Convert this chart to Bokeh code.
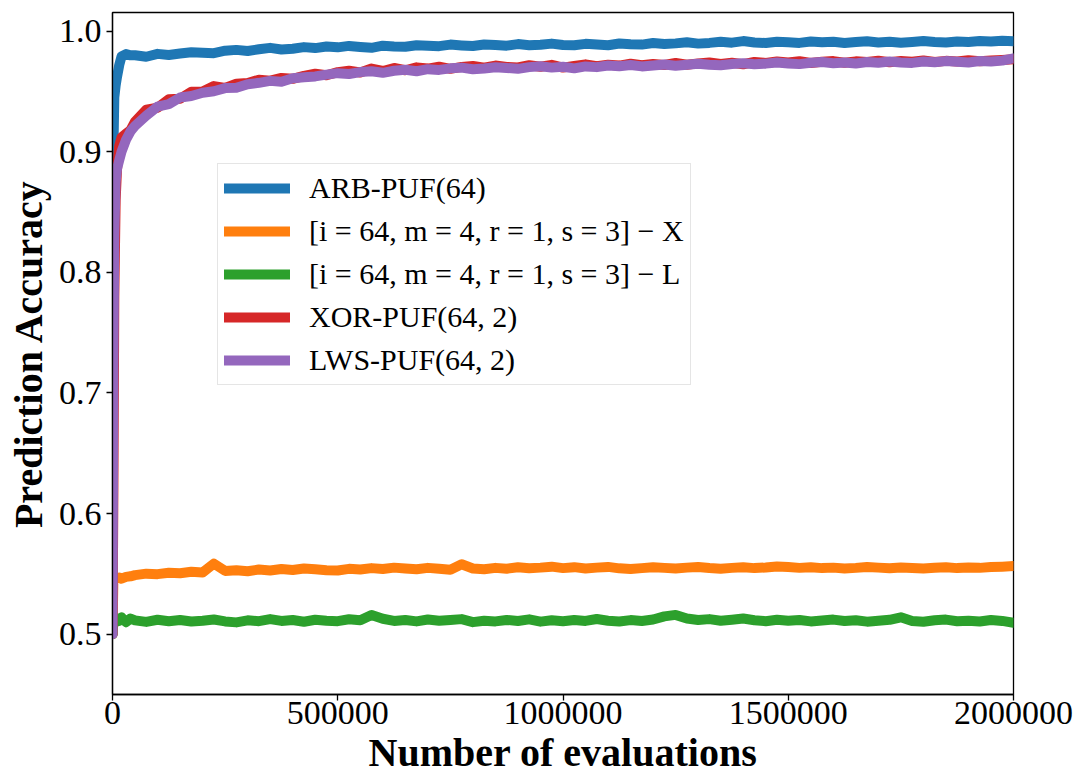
from bokeh.plotting import figure
from bokeh.models import Range1d, FixedTicker, PrintfTickFormatter, BasicTickFormatter, Legend, LegendItem
from bokeh.embed import file_html
from bokeh.resources import INLINE

# ---------------- data ----------------
early_x = [0, 2000, 4000, 7000, 10000, 15000, 20000, 30000, 40000]
evaluations = early_x + list(range(50000, 2000001, 25000))

arb_puf = [0.5, 0.900, 0.945, 0.955, 0.962, 0.972, 0.979, 0.981, 0.980,
    0.9800, 0.9788, 0.9812, 0.9803, 0.9815, 0.9825, 0.9822, 0.9818, 0.9838, 0.9845,
    0.9836, 0.9850, 0.9862, 0.9848, 0.9855, 0.9868, 0.9860, 0.9873, 0.9866, 0.9878,
    0.9869, 0.9862, 0.9880, 0.9874, 0.9871, 0.9884, 0.9879, 0.9876, 0.9889, 0.9882,
    0.9877, 0.9890, 0.9885, 0.9880, 0.9893, 0.9884, 0.9888, 0.9897, 0.9886, 0.9883,
    0.9895, 0.9890, 0.9884, 0.9898, 0.9892, 0.9889, 0.9902, 0.9894, 0.9899, 0.9908,
    0.9897, 0.9903, 0.9912, 0.9905, 0.9918, 0.9906, 0.9902, 0.9913, 0.9909, 0.9903,
    0.9914, 0.9908, 0.9912, 0.9902, 0.9910, 0.9916, 0.9907, 0.9913, 0.9905, 0.9911,
    0.9918, 0.9910, 0.9906, 0.9915, 0.9911, 0.9918, 0.9914, 0.9920, 0.9917]

imrs_x = [0.5, 0.546, 0.547, 0.546, 0.5465, 0.547, 0.546, 0.5475, 0.548,
    0.5490, 0.5502, 0.5498, 0.5510, 0.5505, 0.5518, 0.5512, 0.5585, 0.5525, 0.5530,
    0.5522, 0.5536, 0.5528, 0.5540, 0.5532, 0.5545, 0.5538, 0.5530, 0.5528, 0.5542,
    0.5536, 0.5548, 0.5540, 0.5552, 0.5544, 0.5538, 0.5550, 0.5542, 0.5535, 0.5580,
    0.5545, 0.5538, 0.5550, 0.5543, 0.5555, 0.5547, 0.5552, 0.5560, 0.5548, 0.5556,
    0.5545, 0.5552, 0.5558, 0.5546, 0.5540, 0.5548, 0.5556, 0.5550, 0.5545, 0.5552,
    0.5558, 0.5549, 0.5543, 0.5550, 0.5556, 0.5548, 0.5553, 0.5562, 0.5557, 0.5550,
    0.5556, 0.5548, 0.5552, 0.5545, 0.5550, 0.5558, 0.5552, 0.5546, 0.5553, 0.5549,
    0.5544, 0.5551, 0.5556, 0.5548, 0.5553, 0.5550, 0.5557, 0.5560, 0.5565]

imrs_l = [0.5, 0.512, 0.514, 0.510, 0.513, 0.511, 0.514, 0.510, 0.513,
    0.5115, 0.5102, 0.5120, 0.5108, 0.5118, 0.5105, 0.5112, 0.5122, 0.5106, 0.5098,
    0.5115, 0.5108, 0.5125, 0.5110, 0.5118, 0.5103, 0.5120, 0.5112, 0.5108, 0.5124,
    0.5115, 0.5160, 0.5128, 0.5110, 0.5118, 0.5106, 0.5122, 0.5112, 0.5118, 0.5125,
    0.5100, 0.5112, 0.5106, 0.5118, 0.5110, 0.5123, 0.5104, 0.5115, 0.5108, 0.5118,
    0.5110, 0.5126, 0.5112, 0.5105, 0.5117, 0.5110, 0.5122, 0.5148, 0.5160, 0.5130,
    0.5118, 0.5125, 0.5112, 0.5120, 0.5130, 0.5116, 0.5108, 0.5120, 0.5112, 0.5118,
    0.5106, 0.5113, 0.5121, 0.5109, 0.5116, 0.5104, 0.5112, 0.5119, 0.5140, 0.5110,
    0.5103, 0.5115, 0.5121, 0.5108, 0.5112, 0.5105, 0.5118, 0.5110, 0.5095]

xor_puf = [0.5, 0.620, 0.780, 0.860, 0.885, 0.905, 0.912, 0.915, 0.918,
    0.9250, 0.9350, 0.9365, 0.9435, 0.9440, 0.9498, 0.9500, 0.9545, 0.9530, 0.9565,
    0.9570, 0.9598, 0.9590, 0.9612, 0.9605, 0.9630, 0.9648, 0.9635, 0.9660, 0.9672,
    0.9658, 0.9690, 0.9670, 0.9695, 0.9676, 0.9700, 0.9690, 0.9705, 0.9688, 0.9704,
    0.9711, 0.9697, 0.9715, 0.9704, 0.9700, 0.9718, 0.9705, 0.9721, 0.9698, 0.9712,
    0.9725, 0.9710, 0.9722, 0.9715, 0.9731, 0.9718, 0.9728, 0.9720, 0.9736, 0.9722,
    0.9733, 0.9741, 0.9729, 0.9738, 0.9726, 0.9745, 0.9737, 0.9748, 0.9740, 0.9751,
    0.9736, 0.9747, 0.9752, 0.9738, 0.9750, 0.9744, 0.9755, 0.9742, 0.9753, 0.9747,
    0.9758, 0.9745, 0.9754, 0.9749, 0.9760, 0.9750, 0.9757, 0.9762, 0.9768]

lws_puf = [0.5, 0.720, 0.830, 0.875, 0.886, 0.893, 0.900, 0.910, 0.917,
    0.9215, 0.9300, 0.9375, 0.9395, 0.9450, 0.9462, 0.9490, 0.9502, 0.9528, 0.9531,
    0.9560, 0.9572, 0.9588, 0.9581, 0.9610, 0.9618, 0.9625, 0.9640, 0.9652, 0.9645,
    0.9661, 0.9668, 0.9655, 0.9672, 0.9680, 0.9668, 0.9685, 0.9679, 0.9692, 0.9698,
    0.9684, 0.9690, 0.9701, 0.9695, 0.9688, 0.9702, 0.9710, 0.9698, 0.9705, 0.9692,
    0.9708, 0.9702, 0.9715, 0.9710, 0.9719, 0.9708, 0.9716, 0.9724, 0.9713, 0.9721,
    0.9730, 0.9722, 0.9717, 0.9728, 0.9735, 0.9726, 0.9731, 0.9740, 0.9733, 0.9727,
    0.9738, 0.9744, 0.9735, 0.9741, 0.9732, 0.9745, 0.9739, 0.9748, 0.9741, 0.9737,
    0.9749, 0.9743, 0.9752, 0.9746, 0.9741, 0.9753, 0.9748, 0.9756, 0.9775]

series_labels = [
    "ARB-PUF(64)",
    "[i = 64, m = 4, r = 1, s = 3] \u2212 X",
    "[i = 64, m = 4, r = 1, s = 3] \u2212 L",
    "XOR-PUF(64, 2)",
    "LWS-PUF(64, 2)",
]
series_colors = ["#1f77b4", "#ff7f0e", "#2ca02c", "#d62728", "#9467bd"]
x_ticks = [0, 500000, 1000000, 1500000, 2000000]
y_ticks = [0.5, 0.6, 0.7, 0.8, 0.9, 1.0]

# ---------------- figure ----------------
FONT = "Liberation Serif"

p = figure(width=1079, height=781, output_backend="svg", toolbar_location=None,
           x_range=Range1d(0, 2000000), y_range=Range1d(0.45, 1.0155),
           min_border_left=112, min_border_right=66, min_border_top=12,
           min_border_bottom=87)
p.background_fill_color = "white"
p.border_fill_color = "white"
p.grid.visible = False
p.outline_line_color = "black"
p.outline_line_width = 1.3
p.outline_line_alpha = 1.0

all_series = [arb_puf, imrs_x, imrs_l, xor_puf, lws_puf]
renderers = []
for ys, col in zip(all_series, series_colors):
    r = p.line(evaluations, ys, line_color=col, line_width=10,
               line_join="round", line_cap="round")
    renderers.append(r)

for ax in (p.xaxis[0], p.yaxis[0]):
    ax.axis_line_color = "black"
    ax.axis_line_width = 1.3
    ax.major_tick_line_color = "black"
    ax.major_tick_line_width = 1.3
    ax.major_tick_out = 6
    ax.major_tick_in = 0
    ax.minor_tick_line_color = None
    ax.major_label_text_font = FONT
    ax.major_label_text_font_size = "34px"
    ax.major_label_text_color = "black"
    ax.axis_label_text_font = FONT
    ax.axis_label_text_font_style = "bold"
    ax.axis_label_text_font_size = "40px"
    ax.axis_label_text_color = "black"

p.xaxis.ticker = FixedTicker(ticks=x_ticks)
p.xaxis.formatter = BasicTickFormatter(use_scientific=False)
p.yaxis.ticker = FixedTicker(ticks=y_ticks)
p.yaxis.formatter = PrintfTickFormatter(format="%.1f")
p.xaxis.axis_label = "Number of evaluations"
p.yaxis.axis_label = "Prediction Accuracy"
p.xaxis.major_label_standoff = 1
p.yaxis.major_label_standoff = 5
p.xaxis.axis_label_standoff = 3
p.yaxis.axis_label_standoff = 5

legend = Legend(
    items=[LegendItem(label=lab, renderers=[r]) for lab, r in zip(series_labels, renderers)],
    location=(105, 309),
    label_text_font=FONT,
    label_text_font_size="30px",
    label_text_color="black",
    glyph_width=66,
    glyph_height=36,
    label_height=36,
    label_standoff=19,
    spacing=7,
    padding=6,
    margin=0,
    border_line_color="#cccccc",
    border_line_width=1.5,
    background_fill_color="white",
    background_fill_alpha=0.85,
)
p.add_layout(legend, "center")

open("out.html", "w").write(file_html(p, INLINE))
